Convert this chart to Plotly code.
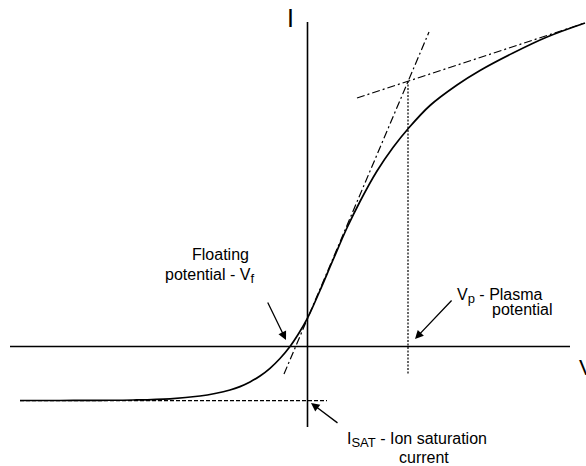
import plotly.graph_objects as go

# Langmuir probe I-V characteristic, arbitrary units
v_curve = [-28.75, -24.75, -20.75, -17.45, -13.75, -10.75, -9.25, -7.75, -6.75,
           -5.75, -4.75, -3.75, -2.75, -1.75, -0.85, 0.0, 1.25, 2.55, 3.92,
           5.25, 6.92, 8.55, 10.08, 12.25, 14.95, 17.25, 20.55, 23.95, 27.75]
i_curve = [-5.4, -5.4, -5.38, -5.35, -5.23, -4.95, -4.7, -4.35, -4.01,
           -3.55, -2.95, -2.18, -1.2, 0.0, 1.35, 2.83, 5.6, 8.65, 11.8,
           14.5, 17.5, 19.9, 21.8, 24.1, 26.15, 27.6, 29.35, 30.95, 32.35]

# Ion saturation level
i_sat = -5.42
v_sat_line = [-28.75, 1.95]

# Tangent through the steep (electron retardation) region
v_tan_steep = [-2.35, 12.15]
i_tan_steep = [-2.75, 31.45]

# Tangent through the electron saturation region
v_tan_flat = [4.95, 27.75]
i_tan_flat = [24.85, 32.35]

# Plasma potential marker
v_plasma = 10.05
i_plasma_line = [26.55, -2.85]

# Axis extents
v_axis = [-29.75, 26.25]
i_axis = [-8.05, 32.45]

fig = go.Figure()

black = "#000000"

# axes
fig.add_trace(go.Scatter(x=v_axis, y=[0, 0], mode="lines",
                         line=dict(color=black, width=1.6)))
fig.add_trace(go.Scatter(x=[0, 0], y=i_axis, mode="lines",
                         line=dict(color=black, width=1.6)))

# construction lines
fig.add_trace(go.Scatter(x=v_sat_line, y=[i_sat, i_sat], mode="lines",
                         line=dict(color=black, width=1.2, dash="4px,2px")))
fig.add_trace(go.Scatter(x=v_tan_steep, y=i_tan_steep, mode="lines",
                         line=dict(color=black, width=1.2, dash="8px,3px,2px,3px")))
fig.add_trace(go.Scatter(x=v_tan_flat, y=i_tan_flat, mode="lines",
                         line=dict(color=black, width=1.2, dash="8px,3px,2px,3px")))
fig.add_trace(go.Scatter(x=[v_plasma, v_plasma], y=i_plasma_line, mode="lines",
                         line=dict(color=black, width=1.2, dash="2px,1.5px")))

# characteristic
fig.add_trace(go.Scatter(x=v_curve, y=i_curve, mode="lines",
                         line=dict(color=black, width=1.7, shape="spline", smoothing=1.0)))

font = dict(family="Liberation Sans, Arial, sans-serif", size=16, color=black)


def sub(s):
    return "<sub><span style='font-size:13px'>%s</span></sub>" % s


labels = [
    # text, x, y, xanchor, size
    ("I", -1.75, 32.85, "center", 25),
    ("V", 26.95, -2.05, "left", 22),
    ("Floating", -11.75, 9.25, "left", 16),
    ("potential - V" + sub("f"), -14.45, 7.1, "left", 16),
    ("V" + sub("p") + " - Plasma", 14.75, 5.1, "left", 16),
    ("potential", 18.25, 3.75, "left", 16),
    ("I" + sub("SAT") + " - Ion saturation", 3.75, -9.35, "left", 16),
    ("current", 8.95, -11.05, "left", 16),
]
for text, x, y, xa, size in labels:
    fig.add_annotation(x=x, y=y, text=text, showarrow=False, xanchor=xa,
                       yanchor="middle", font=dict(font, size=size))

arrows = [
    # head (x, y), tail (ax, ay)
    (-2.15, 0.65, -4.05, 4.55),
    (10.75, 0.75, 14.55, 4.75),
    (0.35, -5.65, 3.15, -7.75),
]
for x, y, ax, ay in arrows:
    fig.add_annotation(x=x, y=y, ax=ax, ay=ay, xref="x", yref="y",
                       axref="x", ayref="y", text="", showarrow=True,
                       arrowhead=2, arrowsize=1.3, arrowwidth=1.3,
                       arrowcolor=black)

fig.update_layout(
    width=586, height=466,
    margin=dict(l=0, r=0, t=0, b=0),
    paper_bgcolor="white", plot_bgcolor="white",
    showlegend=False,
    xaxis=dict(range=[-30.75, 27.85], visible=False, fixedrange=True),
    yaxis=dict(range=[-11.95, 34.65], visible=False, fixedrange=True),
)

fig.write_html("out.html")
